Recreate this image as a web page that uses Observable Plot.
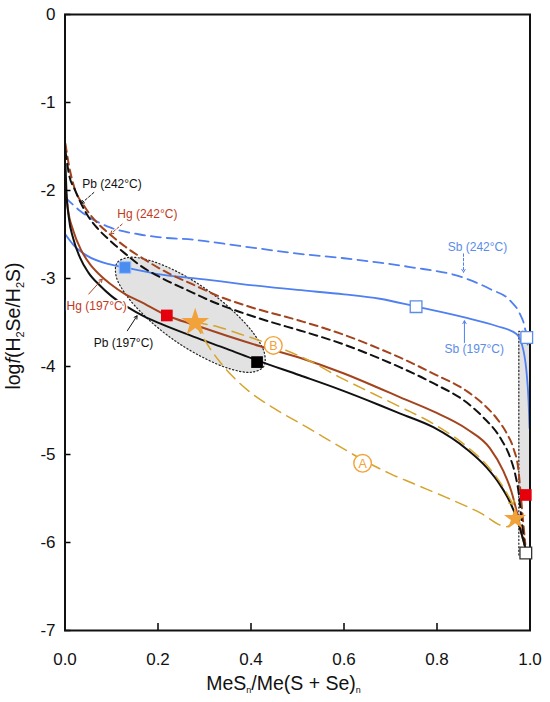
<!DOCTYPE html>
<html><head><meta charset="utf-8">
<script src="https://cdn.jsdelivr.net/npm/d3@7"></script>
<script src="https://cdn.jsdelivr.net/npm/@observablehq/plot@0.6"></script>
<style>body{margin:0;background:#fff}</style>
</head><body><div id="chart"></div>
<script>
// ---- data ----
const xTicks = [0, 0.2, 0.4, 0.6, 0.8, 1.0];
const yTicks = [-7, -6, -5, -4, -3, -2, -1, 0];

const pb197 = [[0.001,-1.7],[0.003,-2.0],[0.008,-2.3],[0.018,-2.55],[0.032,-2.76],[0.05,-2.93],[0.075,-3.08],[0.10,-3.2],[0.133,-3.32],[0.17,-3.43],[0.204,-3.51],[0.276,-3.66],[0.348,-3.80],[0.413,-3.93],[0.505,-4.10],[0.59,-4.26],[0.677,-4.44],[0.721,-4.535],[0.792,-4.69],[0.864,-4.94],[0.907,-5.15],[0.935,-5.34],[0.955,-5.52],[0.971,-5.72],[0.986,-5.98],[0.993,-6.12]];
const pb242 = [[0.001,-1.55],[0.008,-1.8],[0.022,-2.0],[0.047,-2.27],[0.07,-2.43],[0.097,-2.57],[0.13,-2.72],[0.161,-2.85],[0.21,-3.0],[0.262,-3.13],[0.32,-3.27],[0.376,-3.38],[0.44,-3.49],[0.505,-3.59],[0.6,-3.75],[0.677,-3.91],[0.721,-4.01],[0.792,-4.19],[0.864,-4.41],[0.9,-4.58],[0.936,-4.81],[0.957,-5.03],[0.968,-5.22],[0.976,-5.45],[0.982,-5.75],[0.988,-6.02]];
const hg197 = [[0.001,-1.95],[0.006,-2.2],[0.018,-2.46],[0.035,-2.68],[0.054,-2.84],[0.075,-2.96],[0.097,-3.06],[0.13,-3.18],[0.161,-3.26],[0.219,-3.42],[0.28,-3.53],[0.348,-3.65],[0.42,-3.77],[0.505,-3.90],[0.6,-4.08],[0.677,-4.25],[0.721,-4.35],[0.792,-4.51],[0.864,-4.71],[0.914,-4.93],[0.942,-5.18],[0.96,-5.42],[0.972,-5.66],[0.983,-5.92],[0.991,-6.08]];
const hg242 = [[0.001,-1.47],[0.008,-1.7],[0.018,-1.93],[0.043,-2.19],[0.07,-2.37],[0.097,-2.5],[0.13,-2.64],[0.176,-2.80],[0.226,-2.95],[0.276,-3.07],[0.33,-3.2],[0.39,-3.31],[0.505,-3.48],[0.6,-3.64],[0.677,-3.80],[0.721,-3.90],[0.792,-4.08],[0.864,-4.28],[0.9,-4.43],[0.93,-4.60],[0.95,-4.76],[0.965,-4.94],[0.975,-5.17],[0.98,-5.45],[0.985,-5.75],[0.99,-6.02]];
const sb197 = [[0.001,-2.5],[0.02,-2.63],[0.047,-2.74],[0.097,-2.84],[0.129,-2.875],[0.2,-2.95],[0.3,-3.01],[0.376,-3.06],[0.5,-3.13],[0.6,-3.18],[0.677,-3.23],[0.755,-3.32],[0.857,-3.44],[0.928,-3.54],[0.971,-3.63],[0.986,-3.82],[0.993,-4.09],[0.997,-4.4],[0.999,-4.7]];
const sb242 = [[0.001,-2.08],[0.032,-2.23],[0.097,-2.42],[0.161,-2.50],[0.2,-2.53],[0.276,-2.56],[0.376,-2.63],[0.505,-2.72],[0.6,-2.77],[0.677,-2.82],[0.742,-2.87],[0.857,-2.99],[0.914,-3.12],[0.957,-3.25],[0.978,-3.40],[0.989,-3.56],[0.995,-3.75]];

const pathA = [[0.28,-3.5],[0.292,-3.62],[0.31,-3.78],[0.335,-3.96],[0.362,-4.12],[0.4,-4.3],[0.448,-4.47],[0.52,-4.69],[0.591,-4.91],[0.64,-5.06],[0.7,-5.22],[0.749,-5.33],[0.821,-5.49],[0.892,-5.66],[0.95,-5.82],[0.966,-5.76]];
const pathB = [[0.28,-3.5],[0.33,-3.55],[0.376,-3.63],[0.448,-3.76],[0.52,-3.92],[0.59,-4.12],[0.663,-4.31],[0.721,-4.46],[0.792,-4.65],[0.864,-4.91],[0.907,-5.12],[0.94,-5.35],[0.962,-5.55]];

const fieldOutline = [[0.427,-4.003],[0.401,-4.065],[0.355,-4.027],[0.296,-3.895],[0.232,-3.691],[0.175,-3.443],[0.132,-3.191],[0.110,-2.974],[0.112,-2.822],[0.138,-2.760],[0.184,-2.798],[0.244,-2.930],[0.307,-3.134],[0.364,-3.382],[0.407,-3.634],[0.429,-3.851]];
const rightBand = [{x1: 0.976, x2: 1.0, y1: -3.62, y2: -5.5}];
const rightOutline = [[0.993,-3.6],[0.976,-3.6],[0.976,-6.15],[0.993,-6.15]];

const filledSquares = [
  {x: 0.129, y: -2.875, metal: "Sb"},
  {x: 0.219, y: -3.42, metal: "Hg"},
  {x: 0.413, y: -3.95, metal: "Pb"},
  {x: 0.991, y: -5.46, metal: "Hg"}
];
const openSquares = [
  {x: 0.755, y: -3.32, metal: "Sb"},
  {x: 0.993, y: -3.67, metal: "Sb"},
  {x: 0.991, y: -6.12, metal: "Pb"}
];
const stars = [{x: 0.28, y: -3.5}, {x: 0.968, y: -5.73}];
const pathLabels = [{x: 0.64, y: -5.10, label: "A"}, {x: 0.448, y: -3.76, label: "B"}];

const curveLabels = [
  {text: "Pb (242°C)", metal: "Pb", x: 0.101, y: -1.924},
  {text: "Hg (242°C)", metal: "Hg", x: 0.177, y: -2.265},
  {text: "Hg (197°C)", metal: "Hg", x: 0.068, y: -3.31},
  {text: "Pb (197°C)", metal: "Pb", x: 0.126, y: -3.731},
  {text: "Sb (242°C)", metal: "Sb", x: 0.887, y: -2.640},
  {text: "Sb (197°C)", metal: "Sb", x: 0.880, y: -3.802}
];
const pointers = [
  {metal: "Pb", t: 242, x1: 0.062, y1: -2.023, x2: 0.035, y2: -2.148},
  {metal: "Hg", t: 242, x1: 0.123, y1: -2.382, x2: 0.098, y2: -2.495},
  {metal: "Hg", t: 197, x1: 0.051, y1: -3.177, x2: 0.080, y2: -3.007},
  {metal: "Pb", t: 197, x1: 0.134, y1: -3.594, x2: 0.155, y2: -3.424},
  {metal: "Sb", t: 242, x1: 0.857, y1: -2.72, x2: 0.857, y2: -2.93},
  {metal: "Sb", t: 197, x1: 0.859, y1: -3.742, x2: 0.859, y2: -3.48}
];

// ---- styles ----
const lineColor = {Pb: "#111111", Hg: "#a4441f", Sb: "#4f7ff0"};
const textColor = {Pb: "#111111", Hg: "#c23a1e", Sb: "#5a8de6"};
const squareFill = {Pb: "#000000", Hg: "#e5000b", Sb: "#4a8cf0"};
const yellow = "#d6a32c";
const orange = "#f2a23a";
const X = d => d[0], Y = d => d[1];
const font = "'Liberation Sans', Arial, sans-serif";

const plot = Plot.plot({
  width: 550, height: 702,
  marginTop: 14, marginBottom: 72, marginLeft: 64.5, marginRight: 20.5,
  x: {domain: [0, 1]},
  y: {domain: [-7, 0]},
  style: {fontFamily: font, background: "white", overflow: "visible"},
  marks: [
    Plot.rect(rightBand, {x1: "x1", x2: "x2", y1: "y1", y2: "y2", fill: "#e2e2e2"}),
    Plot.line(fieldOutline, {x: X, y: Y, curve: "catmull-rom-closed", fill: "#e2e2e2", stroke: "#222", strokeWidth: 1.2, strokeDasharray: "1.2,2.4"}),
    Plot.line(rightOutline, {x: X, y: Y, stroke: "#222", strokeWidth: 1.2, strokeDasharray: "1.2,2.4"}),
    Plot.line(sb242, {x: X, y: Y, curve: "monotone-x", stroke: lineColor.Sb, strokeWidth: 1.8, strokeDasharray: "10,6"}),
    Plot.line(sb197, {x: X, y: Y, curve: "monotone-x", stroke: lineColor.Sb, strokeWidth: 1.8}),
    Plot.line(hg242, {x: X, y: Y, curve: "monotone-x", stroke: lineColor.Hg, strokeWidth: 2, strokeDasharray: "8,5"}),
    Plot.line(pb242, {x: X, y: Y, curve: "monotone-x", stroke: lineColor.Pb, strokeWidth: 2, strokeDasharray: "8,5"}),
    Plot.line(hg197, {x: X, y: Y, curve: "monotone-x", stroke: lineColor.Hg, strokeWidth: 2}),
    Plot.line(pb197, {x: X, y: Y, curve: "monotone-x", stroke: lineColor.Pb, strokeWidth: 2}),
    Plot.line(pathA, {x: X, y: Y, curve: "monotone-x", stroke: yellow, strokeWidth: 1.5, strokeDasharray: "12,7"}),
    Plot.line(pathB, {x: X, y: Y, curve: "monotone-x", stroke: yellow, strokeWidth: 1.5, strokeDasharray: "12,7", markerEnd: "arrow"}),
    Plot.axisX(xTicks, {tickSize: -7, tickPadding: 29, tickFormat: d3.format(".1f"), fontSize: 17, label: null, strokeWidth: 1.5, fill: "#111"}),
    Plot.axisY(yTicks, {tickSize: -6, tickPadding: 15.5, tickFormat: d => String(d), fontSize: 17, label: null, strokeWidth: 1.5, fill: "#111"}),
    Plot.frame({stroke: "#111", strokeWidth: 2}),
    Plot.dot(filledSquares, {x: "x", y: "y", symbol: "square", r: 6.6, fill: d => squareFill[d.metal], stroke: d => d.metal === "Sb" ? "#9cc3ff" : "none", strokeWidth: 1}),
    Plot.dot(openSquares, {x: "x", y: "y", symbol: "square", r: 6.6, fill: "white", stroke: d => d.metal === "Sb" ? "#5a8de6" : "#333", strokeWidth: 1.3}),
    Plot.dot([stars[0]], {x: "x", y: "y", symbol: "star", r: 8.8, fill: orange}),
    Plot.dot([stars[1]], {x: "x", y: "y", symbol: "star", r: 7, fill: orange}),
    Plot.dot(pathLabels, {x: "x", y: "y", r: 8.8, fill: "white", stroke: orange, strokeWidth: 1.4}),
    Plot.text(pathLabels, {x: "x", y: "y", text: "label", fill: orange, fontSize: 12.5, dy: 0.5}),
    Plot.arrow(pointers.filter(d => d.t === 242), {x1: "x1", y1: "y1", x2: "x2", y2: "y2", stroke: d => lineColor[d.metal], strokeWidth: 1, headLength: 5, strokeDasharray: "2.5,2"}),
    Plot.arrow(pointers.filter(d => d.t === 197), {x1: "x1", y1: "y1", x2: "x2", y2: "y2", stroke: d => lineColor[d.metal], strokeWidth: 1, headLength: 5}),
    Plot.text(curveLabels, {x: "x", y: "y", text: "text", fill: d => textColor[d.metal], fontSize: 12, stroke: "white", strokeWidth: 3, paintOrder: "stroke"})
  ]
});

// axis titles with sub/italic parts
const svg = d3.select(plot);
const xl = svg.append("text").attr("x", 283.5).attr("y", 690).attr("text-anchor", "middle")
  .attr("font-size", 19.5).attr("font-family", font).attr("fill", "#111");
xl.append("tspan").text("MeS");
xl.append("tspan").attr("font-size", 9).attr("dy", 3).text("n");
xl.append("tspan").attr("dy", -3).text("/Me(S + Se)");
xl.append("tspan").attr("font-size", 9).attr("dy", 3).text("n");

const yl = svg.append("text").attr("transform", "translate(20,326) rotate(-90)").attr("text-anchor", "middle")
  .attr("font-size", 19.5).attr("font-family", font).attr("fill", "#111");
yl.append("tspan").text("log");
yl.append("tspan").attr("font-style", "italic").text("f");
yl.append("tspan").text("(H");
yl.append("tspan").attr("font-size", 11).attr("dy", 4).text("2");
yl.append("tspan").attr("dy", -4).text("Se/H");
yl.append("tspan").attr("font-size", 11).attr("dy", 4).text("2");
yl.append("tspan").attr("dy", -4).text("S)");

document.getElementById("chart").append(plot);
</script>
</body></html>
